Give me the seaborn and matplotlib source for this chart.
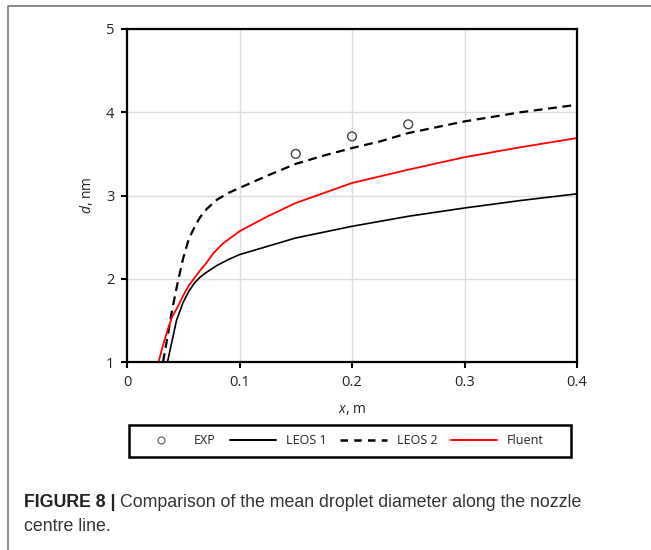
import numpy as np
import pandas as pd
import matplotlib
matplotlib.use("Agg")
import matplotlib.pyplot as plt
from matplotlib.lines import Line2D
from matplotlib.patches import Rectangle
import seaborn as sns

# ---- data ----
exp_x = [0.15, 0.20, 0.25]
exp_y = [3.50, 3.71, 3.855]

leos1_x = [0.036, 0.040, 0.044, 0.050, 0.055, 0.060, 0.065, 0.071, 0.080, 0.090, 0.100,
           0.125, 0.150, 0.175, 0.200, 0.225, 0.250, 0.300, 0.350, 0.400]
leos1_y = [1.00, 1.25, 1.50, 1.72, 1.85, 1.95, 2.02, 2.08, 2.16, 2.23, 2.29,
           2.39, 2.49, 2.56, 2.63, 2.69, 2.75, 2.85, 2.94, 3.02]

leos2_x = [0.032, 0.036, 0.040, 0.045, 0.050, 0.055, 0.060, 0.065, 0.071, 0.080, 0.090,
           0.100, 0.125, 0.150, 0.175, 0.200, 0.225, 0.250, 0.300, 0.350, 0.400]
leos2_y = [1.00, 1.30, 1.62, 1.95, 2.25, 2.48, 2.62, 2.74, 2.84, 2.95, 3.03,
           3.09, 3.24, 3.38, 3.48, 3.57, 3.65, 3.75, 3.89, 4.00, 4.09]

fluent_x = [0.028, 0.032, 0.036, 0.040, 0.045, 0.050, 0.055, 0.060, 0.065, 0.070, 0.077,
            0.085, 0.100, 0.125, 0.150, 0.175, 0.200, 0.225, 0.250, 0.300, 0.350, 0.400]
fluent_y = [1.00, 1.20, 1.38, 1.54, 1.66, 1.80, 1.92, 2.01, 2.10, 2.18, 2.31,
            2.42, 2.57, 2.75, 2.91, 3.03, 3.15, 3.23, 3.31, 3.46, 3.58, 3.69]

x_ticks = [0, 0.1, 0.2, 0.3, 0.4]
x_tick_labels = ["0", "0.1", "0.2", "0.3", "0.4"]
y_ticks = [1, 2, 3, 4, 5]
legend_labels = ["EXP", "LEOS 1", "LEOS 2", "Fluent"]
caption_bold = "FIGURE 8 | "
caption_line1 = "Comparison of the mean droplet diameter along the nozzle"
caption_line2 = "centre line."

# ---- style ----
sns.set_theme(style="white")
plt.rcParams["font.family"] = ["Open Sans", "DejaVu Sans"]
plt.rcParams["mathtext.fontset"] = "custom"
plt.rcParams["mathtext.it"] = "Open Sans:italic"
plt.rcParams["mathtext.rm"] = "Open Sans"

W, H = 651, 550
fig = plt.figure(figsize=(W / 100, H / 100), dpi=100)
ax = fig.add_axes([127 / W, 1 - 362 / H, 450 / W, 333 / H])

df1 = pd.DataFrame({"x": leos1_x, "y": leos1_y})
df2 = pd.DataFrame({"x": leos2_x, "y": leos2_y})
dff = pd.DataFrame({"x": fluent_x, "y": fluent_y})
dfe = pd.DataFrame({"x": exp_x, "y": exp_y})

sns.lineplot(data=df1, x="x", y="y", ax=ax, color="black", lw=1.2, sort=False)
sns.lineplot(data=df2, x="x", y="y", ax=ax, color="black", lw=1.6, sort=False,
             linestyle=(0, (4, 2.5)))
sns.lineplot(data=dff, x="x", y="y", ax=ax, color="#ff0000", lw=1.3, sort=False)
sns.scatterplot(data=dfe, x="x", y="y", ax=ax, marker="o", s=40,
                facecolor="none", edgecolor="#444444", linewidth=1.0, zorder=5)

ax.set_xlim(0, 0.4)
ax.set_ylim(1, 5)
ax.set_xticks(x_ticks)
ax.set_xticklabels(x_tick_labels)
ax.set_yticks(y_ticks)
ax.grid(True, color="#dcdcdc", lw=1.0)
ax.set_axisbelow(True)
for s in ax.spines.values():
    s.set_color("black")
    s.set_linewidth(1.6)
ax.tick_params(axis="both", direction="out", length=4, width=1.5, color="black",
               labelsize=10.5, labelcolor="#222222", pad=5,
               bottom=True, left=True)
ax.set_xlabel(r"$\it{x}$, m", fontsize=10, color="#222222", labelpad=9)
ax.set_ylabel(r"$\it{d}$, nm", fontsize=10, color="#222222", labelpad=8)

# legend: manual frame + frameless legend centred inside
ax.add_patch(Rectangle((2 / 450, -(457 - 362) / 333), 442 / 450, 32 / 333,
                       transform=ax.transAxes, fill=False, edgecolor="black",
                       lw=1.8, clip_on=False))
handles = [
    Line2D([], [], ls="none", marker="o", mfc="none", mec="#666666", ms=5, mew=0.9),
    Line2D([], [], color="black", lw=1.4),
    Line2D([], [], color="black", lw=1.8, ls=(0, (3, 2.5))),
    Line2D([], [], color="#ff0000", lw=1.4),
]
leg = ax.legend(handles, legend_labels, loc="center", ncol=4,
                bbox_to_anchor=((341 - 127) / 450, -(441 - 362) / 333),
                handlelength=3.7, handletextpad=0.8, columnspacing=1.1,
                fontsize=9, frameon=False, borderaxespad=0, borderpad=0)
for t in leg.get_texts():
    t.set_color("#222222")

# outer frame (left and top edges)
fig.add_artist(Line2D([8 / W, 8 / W, 1.0], [0.0, 1 - 6 / H, 1 - 6 / H],
                      transform=fig.transFigure, color="#777777", lw=1.2))

# caption
cap_font = ["Liberation Sans", "DejaVu Sans"]
cap_size = 12.8
tb = fig.text(24 / W, 1 - 507 / H, caption_bold, fontsize=cap_size, fontweight="bold",
              family=cap_font, color="#222222", va="baseline")
fig.canvas.draw()
bb = tb.get_window_extent(renderer=fig.canvas.get_renderer())
fig.text(bb.x1 / W, 1 - 507 / H, caption_line1, fontsize=cap_size, family=cap_font,
         color="#333333", va="baseline")
fig.text(24 / W, 1 - 531 / H, caption_line2, fontsize=cap_size, family=cap_font,
         color="#333333", va="baseline")

fig.savefig("out.png", dpi=100)
